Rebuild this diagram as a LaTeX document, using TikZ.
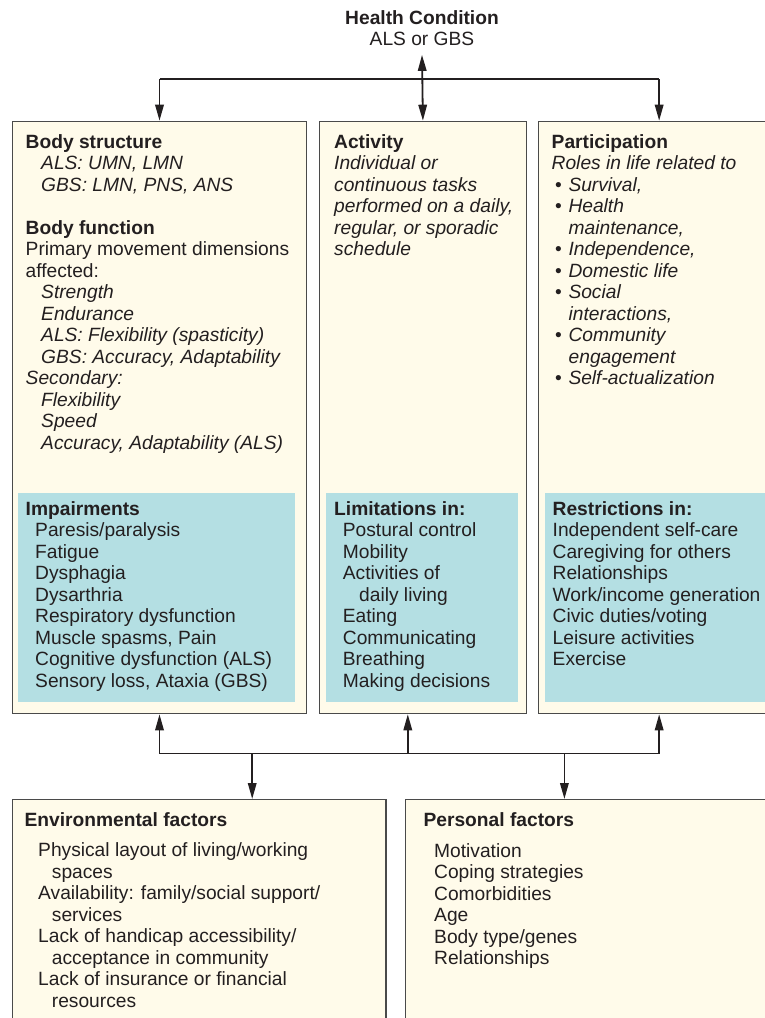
\documentclass[tikz,border=0pt]{standalone}
\usepackage{fontspec}
\setmainfont{Liberation Sans}
\usetikzlibrary{arrows.meta}
\definecolor{cream}{HTML}{FFFBEA}
\definecolor{paleblue}{HTML}{B4DFE3}
\definecolor{ink}{HTML}{231F20}
\definecolor{edge}{HTML}{4A4A4A}
% stack of lines at a fixed baseline pitch; the node's base is the first line
\newcommand{\stack}[1]{\vtop{\baselineskip=21.5pt\lineskiplimit=-30pt\lineskip=0pt #1}}
\newcommand{\rowline}[1]{\hbox{#1}}
\newcommand{\subline}[1]{\hbox{\hskip15.5pt #1}}
\newcommand{\bulline}[1]{\hbox{\hskip3.5pt\makebox[13.3pt][l]{\textbullet}\textit{#1}}}
\begin{document}
\begin{tikzpicture}[x=1pt,y=-1pt,
  panel/.style={draw=edge, line width=1.3pt, fill=cream, inner sep=0pt, anchor=north west},
  inset/.style={fill=paleblue, inner sep=0pt, anchor=north west},
  txt/.style={inner sep=0pt, anchor=base west, text=ink, font=\fontsize{19.2}{21.5}\selectfont},
  link/.style={draw=ink, line width=1.8pt},
  arr/.style={link, -{Triangle[length=16pt,width=8.5pt]}},
  arrboth/.style={link, {Triangle[length=16pt,width=8.5pt]}-{Triangle[length=16pt,width=8.5pt]}}]
\useasboundingbox (0,0) rectangle (765,1018);
\clip (0,0) rectangle (765,1018);

% health condition
\node[txt, anchor=base, inner xsep=0pt, inner ysep=9pt] (hc) at (422,24)
  {\stack{\hbox to 0pt{\hss\textbf{Health Condition}\hss}\hbox to 0pt{\hss ALS or GBS\hss}}};

% upper panels
\node[panel, minimum width=294.3pt, minimum height=592.3pt] (b1) at (11.7,120.7) {};
\node[panel, minimum width=207.5pt, minimum height=592.3pt] (b2) at (318.5,120.7) {};
\node[panel, minimum width=241.8pt, minimum height=592.3pt] (b3) at (537.6,120.7) {};
\node[inset, minimum width=276.6pt, minimum height=209.5pt] (i1) at (18,492.5) {};
\node[inset, minimum width=192pt, minimum height=209.5pt] (i2) at (326,492.5) {};
\node[inset, minimum width=227pt, minimum height=209.5pt] (i3) at (545,492.5) {};

% lower panels
\node[panel, minimum width=373.7pt, minimum height=260pt] (env) at (11.7,799) {};
\node[panel, minimum width=400pt, minimum height=260pt] (pers) at (405,799) {};

% body structure / function
\node[txt] (t1) at (25.5,148.3) {\stack{%
  \rowline{\textbf{Body structure}}
  \subline{\textit{ALS: UMN, LMN}}
  \subline{\textit{GBS: LMN, PNS, ANS}}
  \rowline{}
  \rowline{\textbf{Body function}}
  \rowline{Primary movement dimensions}
  \rowline{affected:}
  \subline{\textit{Strength}}
  \subline{\textit{Endurance}}
  \subline{\textit{ALS: Flexibility (spasticity)}}
  \subline{\textit{GBS: Accuracy, Adaptability}}
  \rowline{\textit{Secondary:}}
  \subline{\textit{Flexibility}}
  \subline{\textit{Speed}}
  \subline{\textit{Accuracy, Adaptability (ALS)}}}};

\node[txt] (t1b) at (25.5,515) {\stack{%
  \rowline{\textbf{Impairments}}
  \rowline{\hskip9.5pt Paresis/paralysis}
  \rowline{\hskip9.5pt Fatigue}
  \rowline{\hskip9.5pt Dysphagia}
  \rowline{\hskip9.5pt Dysarthria}
  \rowline{\hskip9.5pt Respiratory dysfunction}
  \rowline{\hskip9.5pt Muscle spasms, Pain}
  \rowline{\hskip9.5pt Cognitive dysfunction (ALS)}
  \rowline{\hskip9.5pt Sensory loss, Ataxia (GBS)}}};

% activity
\node[txt] (t2) at (334,148.3) {\stack{%
  \rowline{\textbf{Activity}}
  \rowline{\textit{Individual or}}
  \rowline{\textit{continuous tasks}}
  \rowline{\textit{performed on a daily,}}
  \rowline{\textit{regular, or sporadic}}
  \rowline{\textit{schedule}}}};

\node[txt] (t2b) at (334,515) {\stack{%
  \rowline{\textbf{Limitations in:}}
  \rowline{\hskip8.7pt Postural control}
  \rowline{\hskip8.7pt Mobility}
  \rowline{\hskip8.7pt Activities of}
  \rowline{\hskip25pt daily living}
  \rowline{\hskip8.7pt Eating}
  \rowline{\hskip8.7pt Communicating}
  \rowline{\hskip8.7pt Breathing}
  \rowline{\hskip8.7pt Making decisions}}};

% participation
\node[txt] (t3) at (551.5,148.3) {\stack{%
  \rowline{\textbf{Participation}}
  \rowline{\textit{Roles in life related to}}
  \bulline{Survival,}
  \bulline{Health}
  \rowline{\hskip17pt\textit{maintenance,}}
  \bulline{Independence,}
  \bulline{Domestic life}
  \bulline{Social}
  \rowline{\hskip17pt\textit{interactions,}}
  \bulline{Community}
  \rowline{\hskip17pt\textit{engagement}}
  \bulline{Self-actualization}}};

\node[txt] (t3b) at (552.5,515) {\stack{%
  \rowline{\textbf{Restrictions in:}}
  \rowline{Independent self-care}
  \rowline{Caregiving for others}
  \rowline{Relationships}
  \rowline{Work/income generation}
  \rowline{Civic duties/voting}
  \rowline{Leisure activities}
  \rowline{Exercise}}};

% environmental factors
\node[txt] (t4) at (24.4,826.7) {\textbf{Environmental factors}};
\node[txt] (t4b) at (38,856.5) {\stack{%
  \rowline{Physical layout of living/working}
  \rowline{\hskip13.7pt spaces}
  \rowline{Availability: family/social support/}
  \rowline{\hskip13.7pt services}
  \rowline{Lack of handicap accessibility/}
  \rowline{\hskip13.7pt acceptance in community}
  \rowline{Lack of insurance or financial}
  \rowline{\hskip13.7pt resources}}};

% personal factors
\node[txt] (t5) at (423.4,826.7) {\textbf{Personal factors}};
\node[txt] (t5b) at (434,857) {\stack{%
  \rowline{Motivation}
  \rowline{Coping strategies}
  \rowline{Comorbidities}
  \rowline{Age}
  \rowline{Body type/genes}
  \rowline{Relationships}}};

% connectors above the panels
\coordinate (jt) at (422,79.3);
\draw[link] (b1.north |- jt) -- (b3.north |- jt);
\draw[arr] (b1.north |- jt) -- (b1.north);
\draw[arr] (b3.north |- jt) -- (b3.north);
\draw[arrboth] (b2.north) -- (hc.south);

% connectors below the panels
\coordinate (jb) at (407.8,753.5);
\coordinate (je) at (252.2,753.5);
\coordinate (jp) at (564.4,753.5);
\draw[link] (b1.south |- jb) -- (b3.south |- jb);
\draw[arr] (b1.south |- jb) -- (b1.south);
\draw[arr] (jb) -- (jb |- b2.south);
\draw[arr] (b3.south |- jb) -- (b3.south);
\draw[arr] (je) -- (je |- env.north);
\draw[arr] (jp) -- (jp |- pers.north);
\end{tikzpicture}
\end{document}
